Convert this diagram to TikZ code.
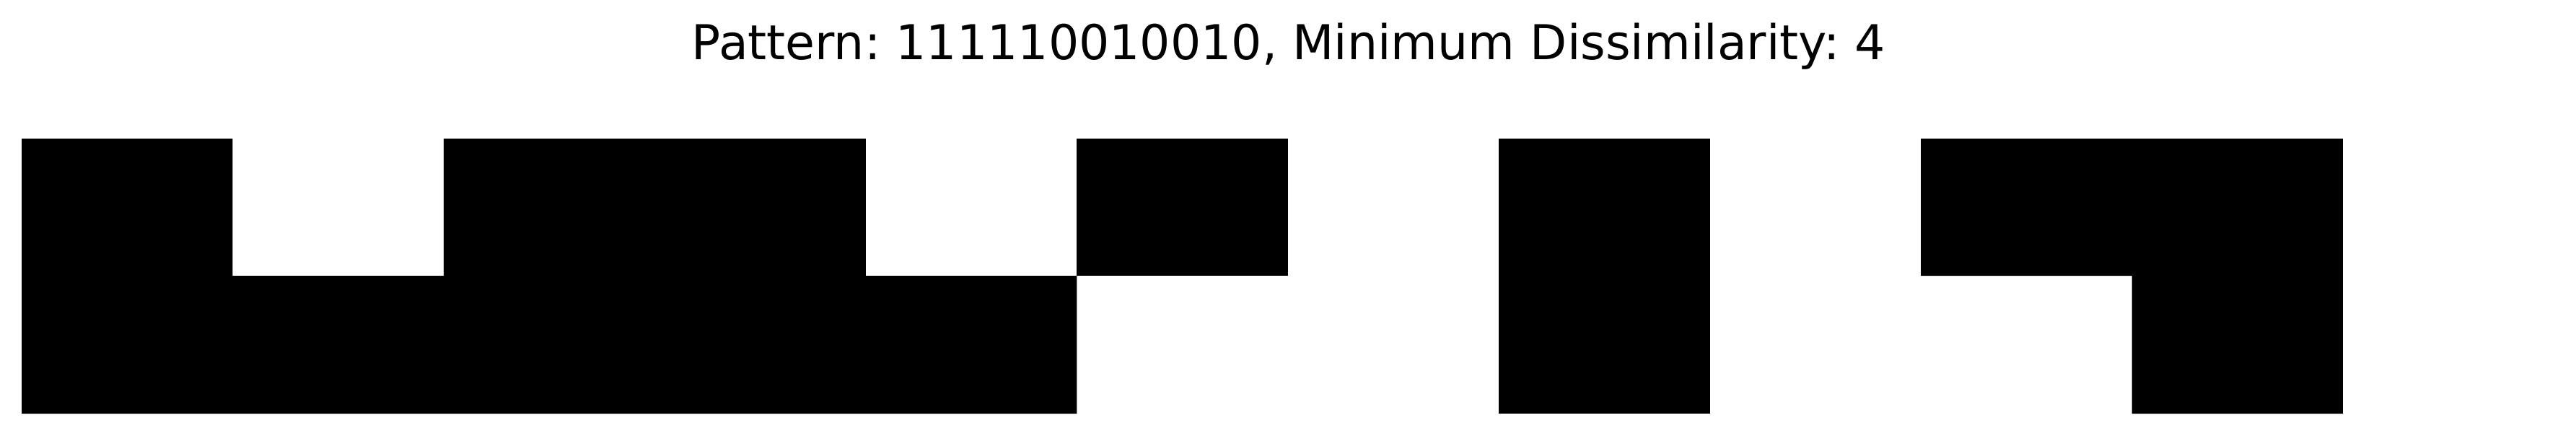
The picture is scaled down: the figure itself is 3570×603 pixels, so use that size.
\documentclass[tikz,border=0pt]{standalone}
\usepackage{fontspec}
\setmainfont{DejaVu Sans}
\begin{document}
\frenchspacing
\begin{tikzpicture}[x=1pt,y=-1pt,
  cellfill/.style={fill=black},
  titletext/.style={inner sep=0pt,anchor=base,font=\fontsize{66.5}{80}\selectfont}]
\useasboundingbox[fill=white] (0,0) rectangle (3570,603);
\def\ytop{192}\def\ymid{382}\def\ybot{573}
% column edges x_k = 30 + k*292.45
\fill[cellfill] (30,\ytop) -- (322.45,\ytop) -- (322.45,\ymid) -- (614.9,\ymid) -- (614.9,\ytop)
  -- (1199.8,\ytop) -- (1199.8,\ymid) -- (1492.25,\ymid) -- (1492.25,\ybot) -- (30,\ybot) -- cycle;
\fill[cellfill] (1492.25,\ytop) rectangle (1784.7,\ymid);
\fill[cellfill] (2077.15,\ytop) rectangle (2369.6,\ybot);
\fill[cellfill] (2662.05,\ytop) -- (3246.95,\ytop) -- (3246.95,\ybot) -- (2954.5,\ybot)
  -- (2954.5,\ymid) -- (2662.05,\ymid) -- cycle;
\node[titletext] (title) at (1786,82) {Pattern: 111110010010, Minimum Dissimilarity: 4};
\end{tikzpicture}
\end{document}
